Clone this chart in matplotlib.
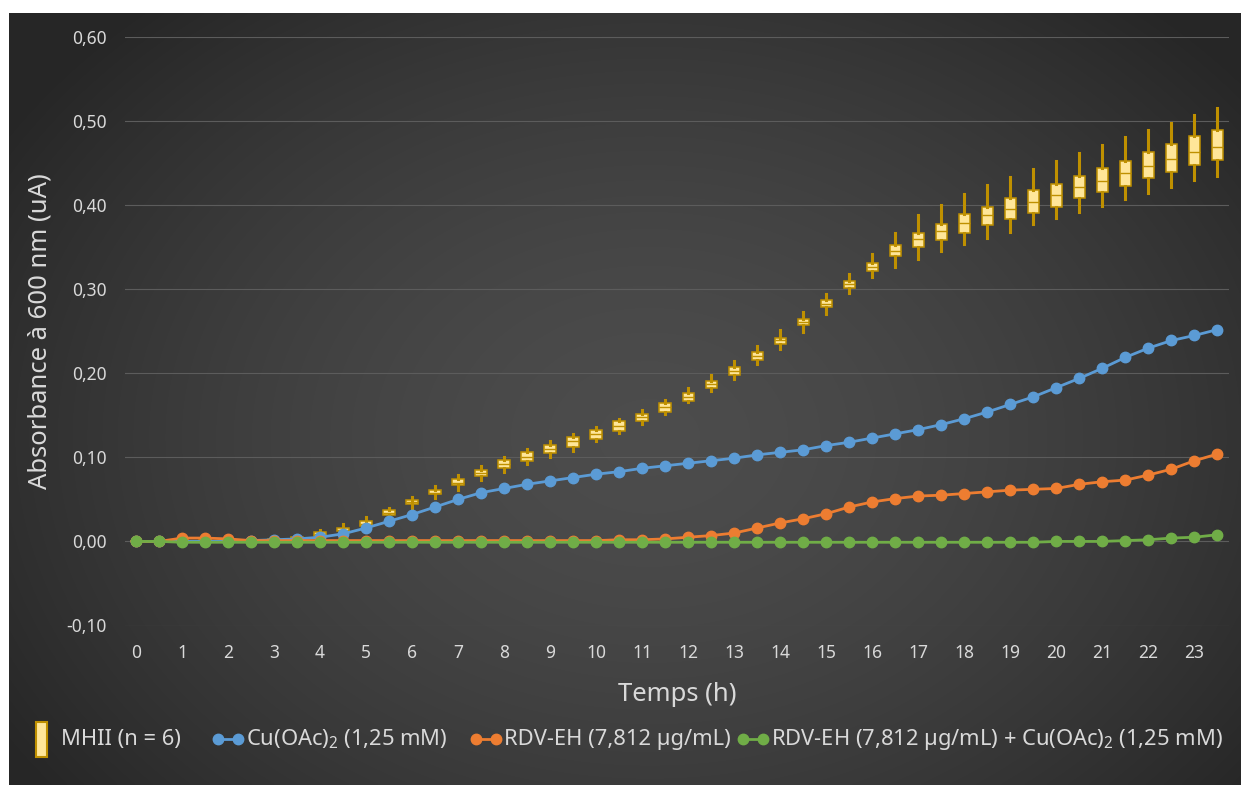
import numpy as np
import matplotlib
matplotlib.use("Agg")
import matplotlib.pyplot as plt
from matplotlib.lines import Line2D
from matplotlib.patches import Rectangle
from matplotlib.ticker import FuncFormatter

plt.rcParams['font.family'] = ['Noto Sans', 'DejaVu Sans']
plt.rcParams['mathtext.fontset'] = 'custom'
plt.rcParams['mathtext.rm'] = 'Noto Sans'
plt.rcParams['mathtext.default'] = 'regular'

# ---------------- data ----------------
time_h = [0, 0.5, 1, 1.5, 2, 2.5, 3, 3.5, 4, 4.5, 5, 5.5, 6, 6.5, 7, 7.5, 8, 8.5, 9, 9.5,
          10, 10.5, 11, 11.5, 12, 12.5, 13, 13.5, 14, 14.5, 15, 15.5, 16, 16.5, 17, 17.5,
          18, 18.5, 19, 19.5, 20, 20.5, 21, 21.5, 22, 22.5, 23, 23.5]
hour_labels = [str(h) for h in range(24)]

mhii_med = [0.001, 0.001, 0.001, 0.001, 0.001, 0.002, 0.002, 0.004, 0.009, 0.014, 0.021, 0.034,
            0.047, 0.058, 0.070, 0.081, 0.092, 0.101, 0.110, 0.119, 0.128, 0.137, 0.148, 0.160,
            0.172, 0.187, 0.203, 0.221, 0.239, 0.261, 0.283, 0.306, 0.326, 0.346, 0.360, 0.369,
            0.379, 0.388, 0.396, 0.404, 0.412, 0.421, 0.429, 0.438, 0.446, 0.455, 0.463, 0.469]
mhii_q1 = [0.000, 0.000, 0.000, 0.000, 0.000, 0.001, 0.001, 0.003, 0.007, 0.012, 0.018, 0.031,
           0.044, 0.056, 0.067, 0.078, 0.087, 0.096, 0.105, 0.112, 0.122, 0.131, 0.143, 0.154,
           0.167, 0.183, 0.198, 0.216, 0.235, 0.257, 0.279, 0.302, 0.322, 0.339, 0.350, 0.359,
           0.367, 0.376, 0.384, 0.391, 0.398, 0.408, 0.416, 0.423, 0.432, 0.440, 0.448, 0.454]
mhii_q3 = [0.001, 0.001, 0.002, 0.002, 0.002, 0.002, 0.003, 0.005, 0.011, 0.016, 0.024, 0.037,
           0.049, 0.061, 0.074, 0.085, 0.097, 0.106, 0.115, 0.124, 0.133, 0.143, 0.152, 0.165,
           0.177, 0.191, 0.207, 0.225, 0.242, 0.265, 0.287, 0.310, 0.331, 0.353, 0.367, 0.377,
           0.389, 0.398, 0.408, 0.418, 0.425, 0.435, 0.444, 0.453, 0.463, 0.473, 0.482, 0.489]
mhii_lo = [0.000, 0.000, 0.000, 0.000, 0.000, 0.000, 0.000, 0.002, 0.005, 0.009, 0.015, 0.028,
           0.040, 0.052, 0.061, 0.073, 0.083, 0.092, 0.101, 0.108, 0.120, 0.129, 0.140, 0.152,
           0.166, 0.179, 0.193, 0.211, 0.229, 0.249, 0.270, 0.295, 0.314, 0.327, 0.336, 0.345,
           0.354, 0.361, 0.368, 0.377, 0.385, 0.392, 0.399, 0.407, 0.415, 0.421, 0.430, 0.435]
mhii_hi = [0.002, 0.002, 0.003, 0.003, 0.003, 0.003, 0.004, 0.007, 0.013, 0.021, 0.029, 0.040,
           0.053, 0.066, 0.079, 0.090, 0.101, 0.110, 0.119, 0.128, 0.136, 0.146, 0.156, 0.168,
           0.182, 0.198, 0.215, 0.233, 0.252, 0.273, 0.294, 0.318, 0.342, 0.367, 0.388, 0.400,
           0.413, 0.424, 0.434, 0.443, 0.453, 0.462, 0.472, 0.481, 0.489, 0.498, 0.507, 0.516]

cu = [0.000, 0.000, 0.000, 0.000, 0.000, 0.001, 0.002, 0.003, 0.005, 0.009, 0.016, 0.024,
      0.032, 0.041, 0.050, 0.058, 0.063, 0.068, 0.072, 0.076, 0.080, 0.083, 0.087, 0.090,
      0.093, 0.096, 0.099, 0.103, 0.106, 0.109, 0.114, 0.118, 0.123, 0.128, 0.133, 0.139,
      0.146, 0.154, 0.163, 0.172, 0.183, 0.194, 0.206, 0.219, 0.230, 0.239, 0.245, 0.252]
rdv = [0.000, 0.000, 0.004, 0.004, 0.003, 0.001, 0.001, 0.001, 0.001, 0.001, 0.001, 0.001,
       0.001, 0.001, 0.001, 0.001, 0.001, 0.001, 0.001, 0.001, 0.001, 0.002, 0.002, 0.003,
       0.005, 0.007, 0.010, 0.016, 0.022, 0.027, 0.033, 0.041, 0.047, 0.051, 0.054, 0.055,
       0.057, 0.059, 0.061, 0.062, 0.063, 0.068, 0.071, 0.073, 0.079, 0.086, 0.096, 0.104]
rdv_cu = [0.000, 0.000, -0.001, -0.001, -0.001, -0.001, -0.001, -0.001, -0.001, -0.001, -0.001, -0.001,
          -0.001, -0.001, -0.001, -0.001, -0.001, -0.001, -0.001, -0.001, -0.001, -0.001, -0.001, -0.001,
          -0.001, -0.001, -0.001, -0.001, -0.001, -0.001, -0.001, -0.001, -0.001, -0.001, -0.001, -0.001,
          -0.001, -0.001, -0.001, -0.001, 0.000, 0.000, 0.000, 0.001, 0.002, 0.004, 0.005, 0.008]

labels = ["MHII (n = 6)",
          r"Cu(OAc)$_2$ (1,25 mM)",
          "RDV-EH (7,812 µg/mL)",
          r"RDV-EH (7,812 µg/mL) + Cu(OAc)$_2$ (1,25 mM)"]

# ---------------- style ----------------
W, H = 1241, 785
TXT = '#d9d9d9'
YEL_FACE = '#ffe699'
YEL_EDGE = '#bf9000'
BLUE = '#5b9bd5'
ORANGE = '#ed7d31'
GREEN = '#70ad47'

fig = plt.figure(figsize=(W / 100, H / 100), dpi=100, facecolor='white')

# gradient background
bg = fig.add_axes([9 / W, 0, 1 - 9 / W, 1 - 13 / H])
bg.set_axis_off()
ny, nx = 300, 480
yy, xx = np.mgrid[0:1:ny * 1j, 0:1:nx * 1j]
r = np.sqrt(((xx - 0.52) / 0.62) ** 2 + ((yy - 0.55) / 0.75) ** 2)
r = np.clip(r, 0, 1)
light, dark = 0.300, 0.150
img = light - (light - dark) * r ** 1.6
bg.imshow(np.dstack([img, img, img]), aspect='auto', extent=[0, 1, 0, 1],
          origin='upper', interpolation='bilinear')
bg.set_xlim(0, 1)
bg.set_ylim(0, 1)

ax = fig.add_axes([124.5 / W, 1 - 625.5 / H, 1104.5 / W, 588.5 / H])
ax.set_facecolor('none')
for s in ax.spines.values():
    s.set_visible(False)

ax.set_xlim(-0.25, 23.75)
ax.set_ylim(-0.10, 0.60)
ax.set_yticks([-0.1, 0.0, 0.1, 0.2, 0.3, 0.4, 0.5, 0.6])
ax.yaxis.set_major_formatter(FuncFormatter(lambda v, p: f"{v:.2f}".replace('.', ',').replace('-0,00', '0,00')))
ax.set_xticks(list(range(24)))
ax.set_xticklabels(hour_labels)
ax.tick_params(axis='both', length=0, colors=TXT, labelsize=12.5)
ax.tick_params(axis='y', pad=13)
ax.tick_params(axis='x', pad=13)
ax.grid(axis='y', color='#5c5c5c', linewidth=0.8, zorder=0)
ax.set_axisbelow(True)

# box plots
stats = []
for i in range(len(time_h)):
    stats.append(dict(med=mhii_med[i], q1=mhii_q1[i], q3=mhii_q3[i],
                      whislo=mhii_lo[i], whishi=mhii_hi[i], fliers=[]))
ax.bxp(stats, positions=time_h, widths=0.25, showcaps=False, showfliers=False,
       patch_artist=True, manage_ticks=False,
       boxprops=dict(facecolor=YEL_FACE, edgecolor=YEL_EDGE, linewidth=1.1),
       whiskerprops=dict(color=YEL_EDGE, linewidth=2.2),
       medianprops=dict(color=YEL_EDGE, linewidth=1.0), zorder=3)

ax.plot(time_h, cu, color=BLUE, lw=2.0, marker='o', ms=7.5, mec=BLUE, zorder=4)
ax.plot(time_h, rdv, color=ORANGE, lw=2.0, marker='o', ms=7.5, mec=ORANGE, zorder=5)
ax.plot(time_h, rdv_cu, color=GREEN, lw=2.0, marker='o', ms=7.5, mec=GREEN, zorder=6)

ax.set_ylabel("Absorbance à 600 nm (uA)", color=TXT, fontsize=18.5)
ax.yaxis.set_label_coords(-0.0650, 0.50)
ax.set_xlabel("Temps (h)", color=TXT, fontsize=18.5)
ax.xaxis.set_label_coords(0.5, -0.0960)

# legend (manual placement)
ly = 1 - 739 / H
FS_LEG = 15.8
fig.add_artist(Rectangle((36 / W, 1 - 757 / H), 11 / W, 35 / H, transform=fig.transFigure,
                         facecolor=YEL_FACE, edgecolor=YEL_EDGE, linewidth=1.5))
fig.text(61 / W, ly, labels[0], color=TXT, fontsize=FS_LEG, va='center', ha='left')
for (x0, x1, tx, col, lab) in [(218, 238, 246, BLUE, labels[1]),
                                (476, 496, 504, ORANGE, labels[2]),
                                (743, 763, 771, GREEN, labels[3])]:
    fig.add_artist(Line2D([x0 / W, x1 / W], [ly, ly], transform=fig.transFigure,
                          color=col, lw=2.0, marker='o', ms=7.5, mec=col))
    fig.text(tx / W, ly, lab, color=TXT, fontsize=FS_LEG, va='center', ha='left')

fig.savefig('out.png', dpi=100, facecolor='white')
